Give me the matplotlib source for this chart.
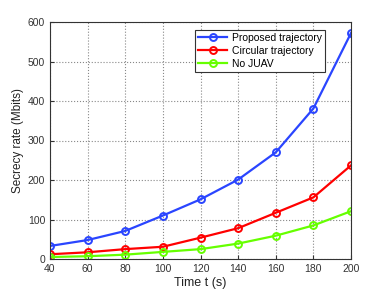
import matplotlib.pyplot as plt

plt.rcParams['font.family'] = ['Liberation Sans', 'DejaVu Sans']

t = [40, 60, 80, 100, 120, 140, 160, 180, 200]
proposed = [33, 48, 71, 110, 151, 201, 270, 381, 572]
circular = [12, 17, 25, 31, 54, 78, 117, 156, 237]
no_juav = [5, 7, 11, 18, 25, 39, 59, 85, 121]

fig = plt.figure(figsize=(3.88, 2.94), dpi=100)
ax = fig.add_axes([50 / 388, 1 - 259 / 294, 301 / 388, 237 / 294])

ax.plot(t, proposed, '-o', color='#2a45ff', lw=1.6, ms=5, mfc='none', mew=1.4, label='Proposed trajectory')
ax.plot(t, circular, '-o', color='#ff0000', lw=1.6, ms=5, mfc='none', mew=1.4, label='Circular trajectory')
ax.plot(t, no_juav, '-o', color='#66ff00', lw=1.6, ms=5, mfc='none', mew=1.4, label='No JUAV')

ax.set_xlim(40, 200)
ax.set_ylim(0, 600)
ax.set_xticks(range(40, 201, 20))
ax.set_yticks(range(0, 601, 100))
ax.tick_params(labelsize=7.5, direction='in', length=3, color='#333333', labelcolor='#333333')
ax.grid(True, linestyle=':', color='#888888', lw=0.8)
for s in ax.spines.values():
    s.set_color('#333333')
    s.set_linewidth(0.8)

ax.set_xlabel('Time t (s)', fontsize=9, color='#222222', labelpad=2)
ax.set_ylabel('Secrecy rate (Mbits)', fontsize=8.5, color='#222222', labelpad=3)

leg = ax.legend(loc='upper right', bbox_to_anchor=(0.93, 0.99), fontsize=7.5, fancybox=False,
                framealpha=1, edgecolor='#333333', handlelength=2.8, borderpad=0.3,
                labelspacing=0.3, handletextpad=0.4)
leg.get_frame().set_linewidth(0.8)

fig.savefig('out.png', dpi=100)
